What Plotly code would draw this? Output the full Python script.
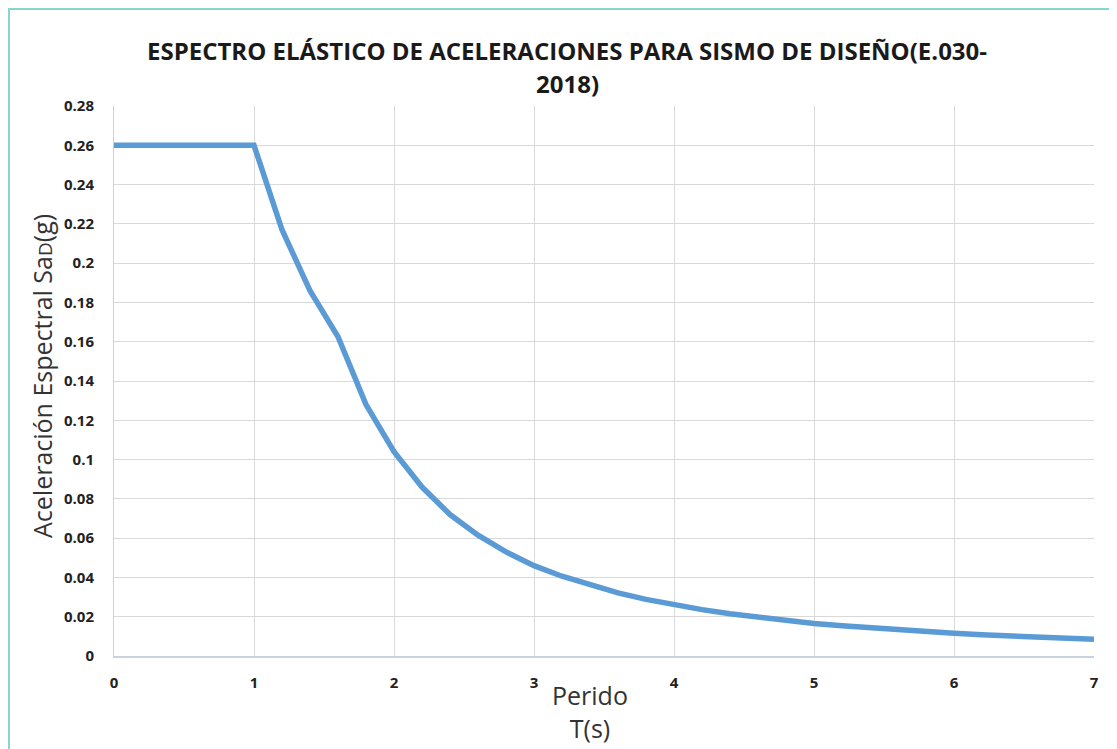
import plotly.graph_objects as go

periodo_T = [0, 0.2, 0.4, 0.6, 0.8, 1.0, 1.2, 1.4, 1.6, 1.8, 2.0, 2.2, 2.4, 2.6, 2.8,
             3.0, 3.2, 3.4, 3.6, 3.8, 4.0, 4.2, 4.4, 4.6, 4.8, 5.0, 5.2, 5.4, 5.6,
             5.8, 6.0, 6.2, 6.4, 6.6, 6.8, 7.0]
sa_g = [0.26, 0.26, 0.26, 0.26, 0.26, 0.26, 0.217, 0.186, 0.1625, 0.128, 0.104,
        0.086, 0.072, 0.0615, 0.053, 0.046, 0.0406, 0.036, 0.0321, 0.0288, 0.026,
        0.0236, 0.0215, 0.0197, 0.0181, 0.0166, 0.0154, 0.0143, 0.0133, 0.0124,
        0.0116, 0.0108, 0.0102, 0.0096, 0.009, 0.0085]

x_ticks = [0, 1, 2, 3, 4, 5, 6, 7]
y_ticks = [0, 0.02, 0.04, 0.06, 0.08, 0.1, 0.12, 0.14, 0.16, 0.18, 0.2, 0.22, 0.24, 0.26, 0.28]
y_tick_text = ["0", "0.02", "0.04", "0.06", "0.08", "0.1", "0.12", "0.14", "0.16",
               "0.18", "0.2", "0.22", "0.24", "0.26", "0.28"]

title_line1 = "ESPECTRO ELÁSTICO DE ACELERACIONES PARA SISMO DE DISEÑO(E.030-"
title_line2 = "2018)"
x_title = "Perido<br>T(s)"
y_title = "Aceleración Espectral Sa<span style='font-size:19px'>D</span>(g)"

font_fam = "Open Sans, sans-serif"


def px_x(p):  # page pixel -> paper x
    return (p - 114) / 980


def px_y(p):  # page pixel -> paper y
    return (656 - p) / 550


fig = go.Figure()
fig.add_trace(go.Scatter(x=periodo_T, y=sa_g, mode="lines",
                         line=dict(color="#5B9BD5", width=5.5), showlegend=False))

fig.update_layout(
    width=1109, height=741,
    margin=dict(l=106, r=23, t=98, b=93),
    paper_bgcolor="white", plot_bgcolor="white",
    font=dict(family=font_fam, color="#222222"),
    xaxis=dict(range=[0, 7], tickvals=x_ticks, ticktext=["<b>%d</b>" % v for v in x_ticks],
               showgrid=True, gridcolor="#d9d9d9", gridwidth=1,
               showline=True, linecolor="#c9d3df", linewidth=1.5,
               zeroline=False, ticks="", ticklabelstandoff=12,
               tickfont=dict(size=15, color="#222222")),
    yaxis=dict(range=[0, 0.28], tickvals=y_ticks, ticktext=["<b>%s</b>" % t for t in y_tick_text],
               showgrid=True, gridcolor="#d9d9d9", gridwidth=1,
               showline=True, linecolor="#d0d0d0", linewidth=1,
               zeroline=False, ticks="", ticklabelstandoff=16,
               tickfont=dict(size=15, color="#222222")),
    shapes=[dict(type="rect", xref="paper", yref="paper",
                 x0=px_x(9), x1=1.2, y0=-0.4, y1=px_y(9),
                 line=dict(color="#86d6cc", width=2), layer="below")],
    annotations=[
        dict(text="<b>" + title_line1 + "</b>", xref="paper", yref="paper",
             x=px_x(567), y=px_y(50), xanchor="center", yanchor="middle", showarrow=False,
             font=dict(size=24, color="#1a1a1a", family=font_fam)),
        dict(text="<b>" + title_line2 + "</b>", xref="paper", yref="paper",
             x=px_x(567), y=px_y(84), xanchor="center", yanchor="middle", showarrow=False,
             font=dict(size=24, color="#1a1a1a", family=font_fam)),
        dict(text=x_title, xref="paper", yref="paper",
             x=px_x(590), y=px_y(711), xanchor="center", yanchor="middle",
             showarrow=False, font=dict(size=25, color="#333333", family=font_fam)),
        dict(text=y_title,
             xref="paper", yref="paper", textangle=-90,
             x=px_x(42), y=px_y(376), xanchor="center", yanchor="middle",
             showarrow=False, font=dict(size=25, color="#333333", family=font_fam)),
    ],
)

fig.write_html("out.html")
